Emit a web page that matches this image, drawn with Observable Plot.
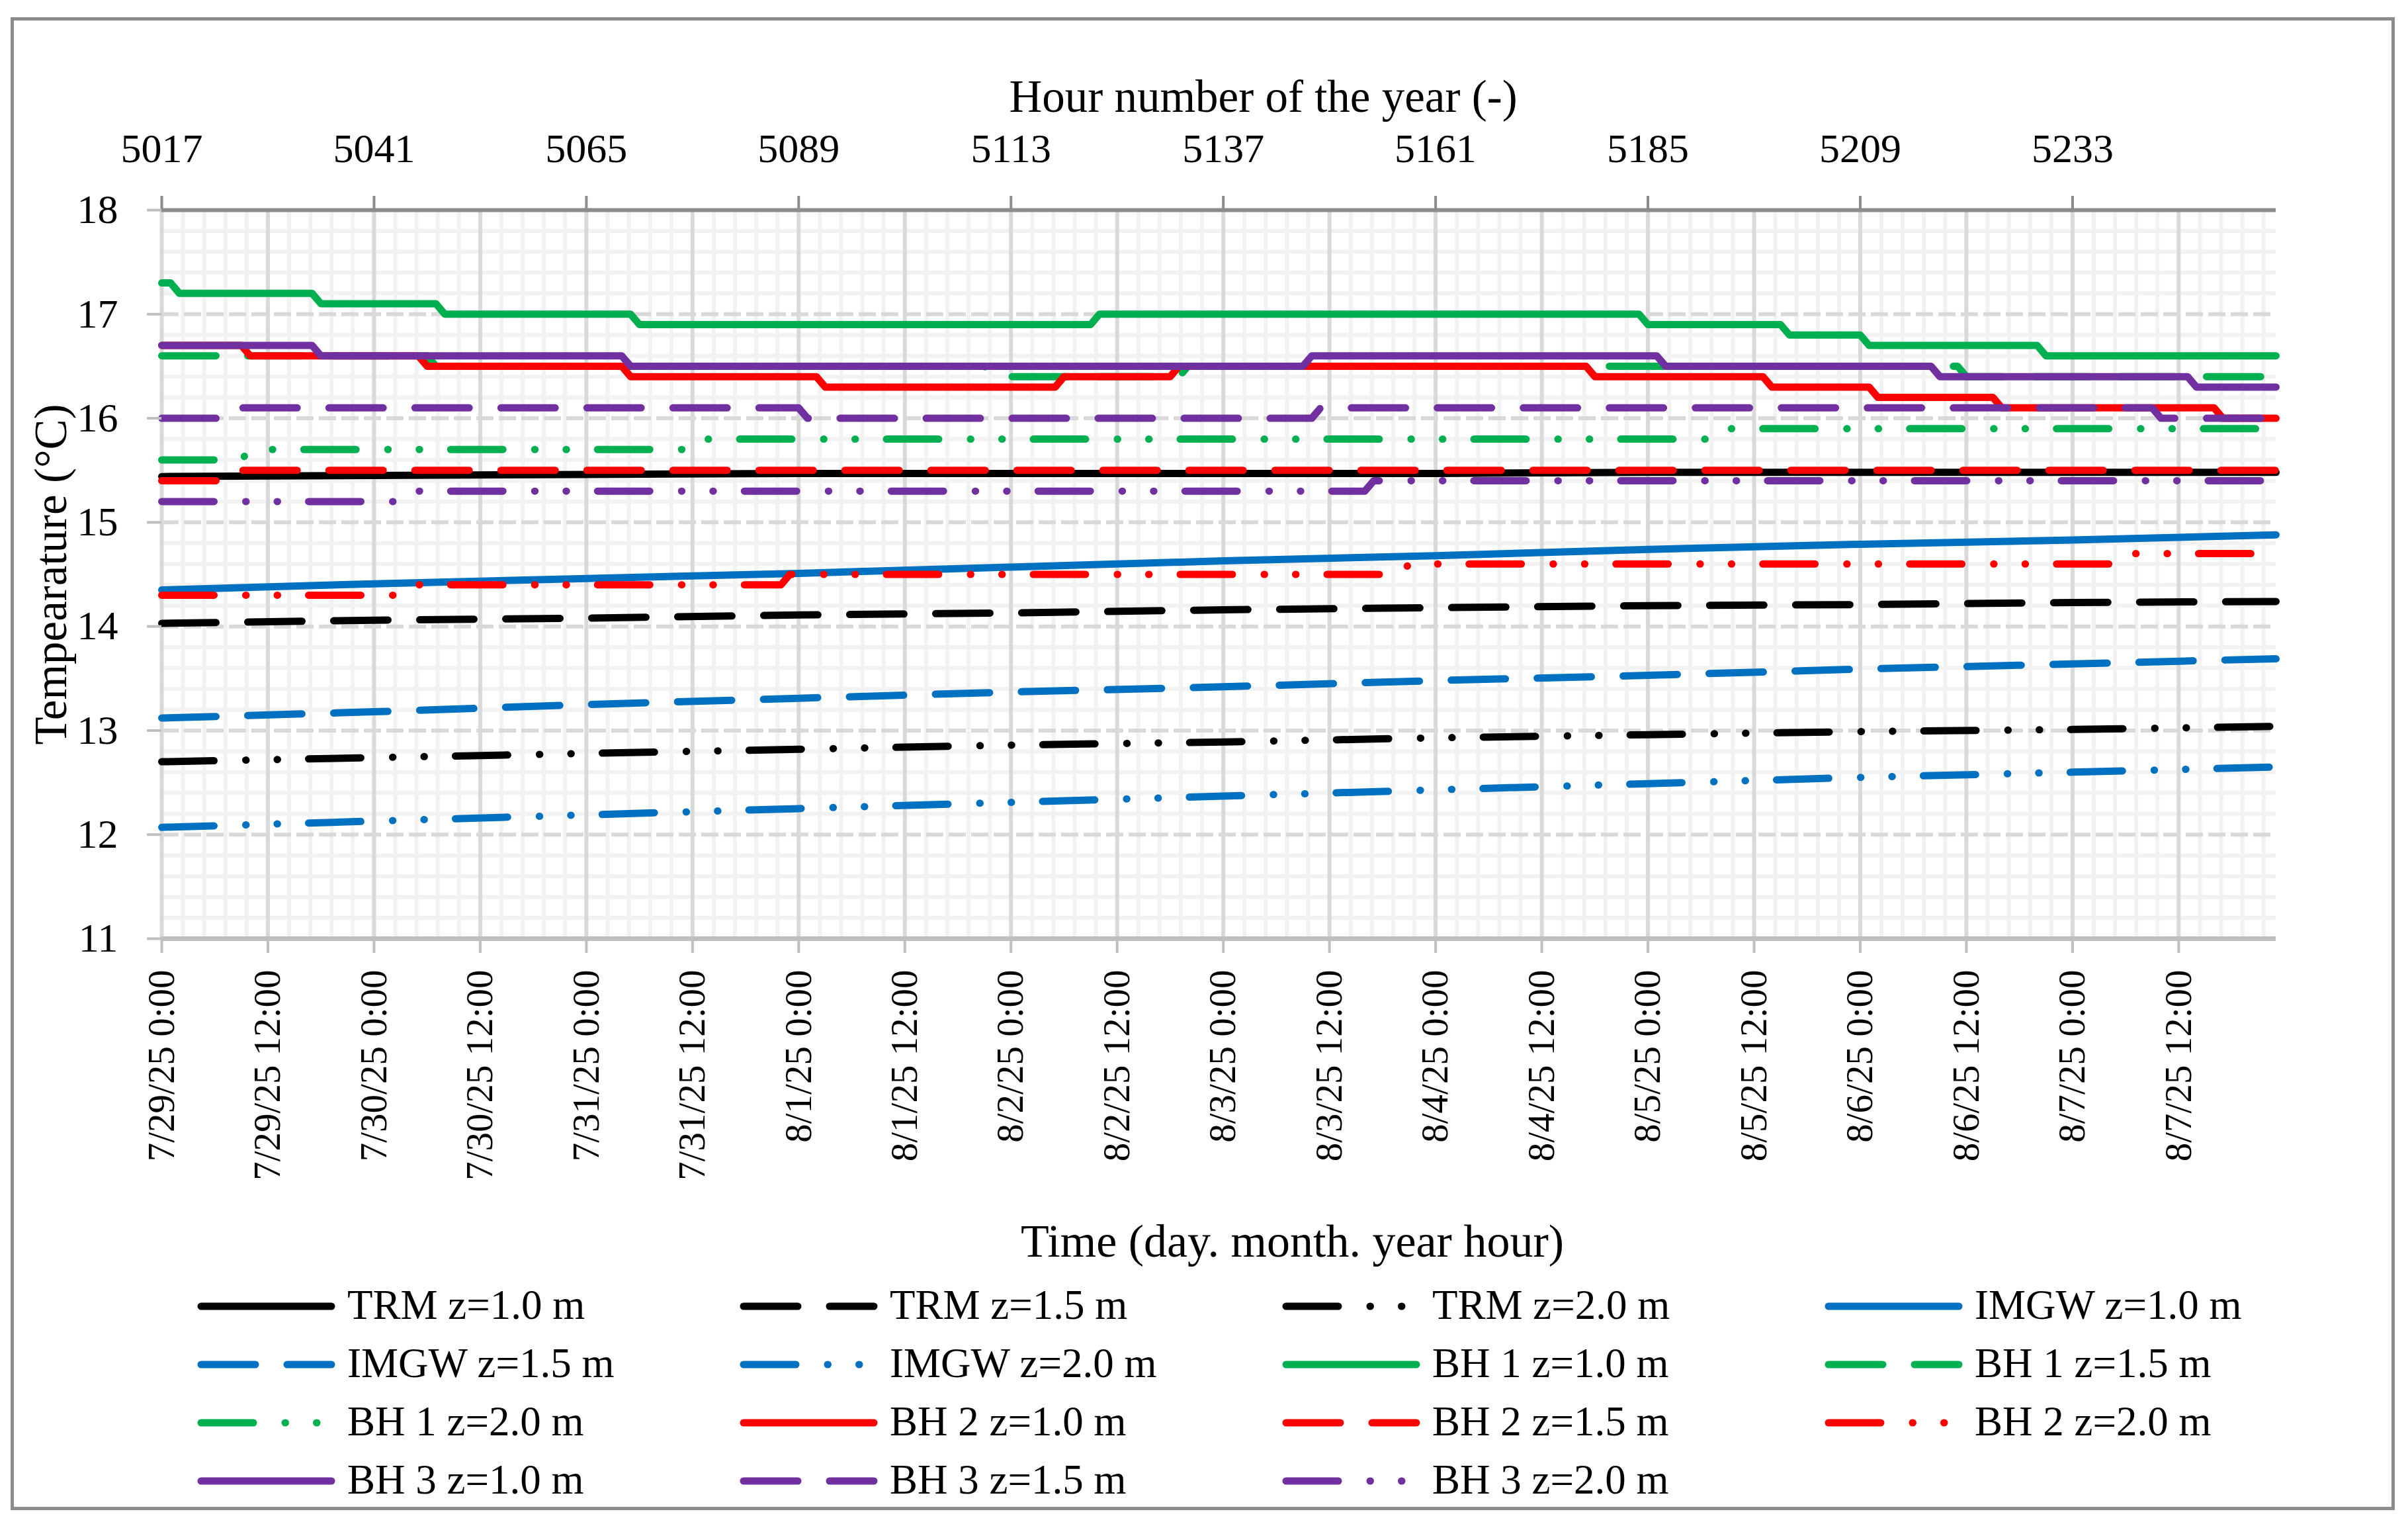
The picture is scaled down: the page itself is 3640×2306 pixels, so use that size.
<!DOCTYPE html>
<html>
<head>
<meta charset="utf-8">
<script src="https://cdn.jsdelivr.net/npm/d3@7"></script>
<script src="https://cdn.jsdelivr.net/npm/@observablehq/plot@0.6"></script>
<style>
html, body { margin: 0; padding: 0; background: #fff; }
#page { position: relative; width: 3640px; height: 2306px; overflow: hidden; background: #fff; font-family: "Liberation Serif", serif; }
#chart { position: absolute; left: 0; top: 0; }
#legend { position: absolute; left: 0; top: 1900px; }
#frame { position: absolute; left: 16px; top: 26px; width: 3604px; height: 2256px; border: 5px solid #8c8c8c; box-sizing: border-box; pointer-events: none; }
</style>
</head>
<body>
<div id="page">
  <div id="chart"></div>
  <svg id="legend" width="3640" height="400"></svg>
  <div id="frame"></div>
</div>
<script>
// ---------------- DATA ----------------
const START_HOUR = 5017;            // 7/29/25 0:00
const END_OFFSET = 239;             // last hourly value
const hourTicks = [5017, 5041, 5065, 5089, 5113, 5137, 5161, 5185, 5209, 5233];
const dateLabels = ["7/29/25 0:00", "7/29/25 12:00", "7/30/25 0:00", "7/30/25 12:00",
  "7/31/25 0:00", "7/31/25 12:00", "8/1/25 0:00", "8/1/25 12:00", "8/2/25 0:00", "8/2/25 12:00",
  "8/3/25 0:00", "8/3/25 12:00", "8/4/25 0:00", "8/4/25 12:00", "8/5/25 0:00", "8/5/25 12:00",
  "8/6/25 0:00", "8/6/25 12:00", "8/7/25 0:00", "8/7/25 12:00"];
const yTicks = [11, 12, 13, 14, 15, 16, 17, 18];

// smooth series, read every 24 h (hour offsets from 5017)
const smoothHours = [0, 24, 48, 72, 96, 120, 144, 168, 192, 216, 239];
const trm10  = [15.44, 15.45, 15.46, 15.47, 15.47, 15.47, 15.47, 15.48, 15.48, 15.48, 15.48];
const trm15  = [14.03, 14.06, 14.08, 14.11, 14.13, 14.16, 14.18, 14.20, 14.21, 14.23, 14.24];
const trm20  = [12.70, 12.74, 12.78, 12.82, 12.86, 12.89, 12.93, 12.96, 12.99, 13.01, 13.04];
const imgw10 = [14.35, 14.41, 14.46, 14.51, 14.57, 14.63, 14.68, 14.74, 14.79, 14.83, 14.88];
const imgw15 = [13.12, 13.18, 13.25, 13.31, 13.37, 13.42, 13.48, 13.53, 13.59, 13.64, 13.69];
const imgw20 = [12.07, 12.13, 12.19, 12.25, 12.31, 12.37, 12.43, 12.49, 12.55, 12.60, 12.65];

// step series: [hour offset, temperature] breakpoints
const bh1_10 = [[0,17.3],[1,17.3],[2,17.2],[17,17.2],[18,17.1],[31,17.1],[32,17.0],[53,17.0],[54,16.9],
  [105,16.9],[106,17.0],[167,17.0],[168,16.9],[183,16.9],[184,16.8],[192,16.8],[193,16.7],[212,16.7],[213,16.6],[239,16.6]];
const bh1_15 = [[0,16.6],[30,16.6],[31,16.5],[93,16.5],[94,16.4],[115,16.4],[116,16.5],[203,16.5],[204,16.4],[239,16.4]];
const bh1_20 = [[0,15.6],[9,15.6],[10,15.7],[59,15.7],[60,15.8],[175,15.8],[176,15.9],[239,15.9]];
const bh2_10 = [[0,16.7],[9,16.7],[10,16.6],[29,16.6],[30,16.5],[52,16.5],[53,16.4],[74,16.4],[75,16.3],
  [101,16.3],[102,16.4],[114,16.4],[115,16.5],[161,16.5],[162,16.4],[181,16.4],[182,16.3],[193,16.3],[194,16.2],
  [207,16.2],[208,16.1],[232,16.1],[233,16.0],[239,16.0]];
const bh2_15 = [[0,15.4],[7,15.4],[8,15.5],[239,15.5]];
const bh2_20 = [[0,14.3],[27,14.3],[28,14.4],[70,14.4],[71,14.5],[140,14.5],[141,14.6],[221,14.6],[222,14.7],[239,14.7]];
const bh3_10 = [[0,16.7],[17,16.7],[18,16.6],[52,16.6],[53,16.5],[129,16.5],[130,16.6],[169,16.6],[170,16.5],
  [200,16.5],[201,16.4],[229,16.4],[230,16.3],[239,16.3]];
const bh3_15 = [[0,16.0],[7,16.0],[8,16.1],[72,16.1],[73,16.0],[130,16.0],[131,16.1],[225,16.1],[226,16.0],[239,16.0]];
const bh3_20 = [[0,15.2],[27,15.2],[28,15.3],[136,15.3],[137,15.4],[239,15.4]];

const seriesNames = ["TRM z=1.0 m", "TRM z=1.5 m", "TRM z=2.0 m", "IMGW z=1.0 m", "IMGW z=1.5 m", "IMGW z=2.0 m",
  "BH 1 z=1.0 m", "BH 1 z=1.5 m", "BH 1 z=2.0 m", "BH 2 z=1.0 m", "BH 2 z=1.5 m", "BH 2 z=2.0 m",
  "BH 3 z=1.0 m", "BH 3 z=1.5 m", "BH 3 z=2.0 m"];

// ---------------- STYLES ----------------
const BLACK = "#000000", BLUE = "#0070C0", GREEN = "#00B050", RED = "#FF0000", PURPLE = "#7030A0";
const seriesColors = [BLACK, BLACK, BLACK, BLUE, BLUE, BLUE, GREEN, GREEN, GREEN, RED, RED, RED, PURPLE, PURPLE, PURPLE];
const DASH = {solid: null, dash: "82,48", dashDotDot: "79,48,0.5,47,0.5,47"};
const seriesDash = ["solid", "dash", "dashDotDot"];
const LW = 11;

const zip = (hs, vs) => hs.map((h, i) => [h, vs[i]]);
const seriesPoints = [
  zip(smoothHours, trm10), zip(smoothHours, trm15), zip(smoothHours, trm20),
  zip(smoothHours, imgw10), zip(smoothHours, imgw15), zip(smoothHours, imgw20),
  bh1_10, bh1_15, bh1_20, bh2_10, bh2_15, bh2_20, bh3_10, bh3_15, bh3_20
];

// ---------------- CHART ----------------
const minorX = d3.range(0, 100).filter(i => i % 5 !== 0).map(i => START_HOUR + i * 2.4);
const majorX = dateLabels.map((_, i) => START_HOUR + i * 12);
const minorY = d3.range(0, 36).filter(i => i % 5 !== 0).map(i => 11 + i * 0.2);
const majorY = yTicks.filter(v => v > 11 && v < 18);

const lineMarks = seriesPoints.map((pts, i) => Plot.line(pts, {
  x: d => START_HOUR + d[0],
  y: d => d[1],
  stroke: seriesColors[i],
  strokeWidth: LW,
  strokeDasharray: DASH[seriesDash[i % 3]] || undefined,
  strokeLinecap: "round",
  strokeLinejoin: "round"
}));

const chart = Plot.plot({
  width: 3640,
  height: 1930,
  marginLeft: 244,
  marginRight: 200,
  marginTop: 317,
  marginBottom: 512,
  x: {domain: [START_HOUR, START_HOUR + END_OFFSET]},
  y: {domain: [11, 18]},
  style: {fontFamily: "'Liberation Serif', serif", fontSize: "62px", background: "transparent", color: "#000", overflow: "visible"},
  marks: [
    Plot.ruleY(minorY, {stroke: "#f2f2f2", strokeWidth: 6}),
    Plot.ruleX(minorX, {stroke: "#f2f2f2", strokeWidth: 6}),
    Plot.ruleX(majorX, {stroke: "#d9d9d9", strokeWidth: 6}),
    Plot.ruleY(majorY, {stroke: "#d9d9d9", strokeWidth: 6, strokeDasharray: "26,8"}),
    Plot.ruleY([18], {stroke: "#8c8c8c", strokeWidth: 6}),
    Plot.ruleY([11], {stroke: "#bfbfbf", strokeWidth: 7}),
    ...lineMarks,
    Plot.axisX({anchor: "top", ticks: hourTicks, tickFormat: d => String(d), tickSize: 22, tickPadding: 51,
      stroke: "#8c8c8c", strokeWidth: 4, fontSize: 62, label: null}),
    Plot.axisX({anchor: "bottom", ticks: majorX, tickFormat: d => dateLabels[Math.round((d - START_HOUR) / 12)],
      tickRotate: -90, tickSize: 22, tickPadding: 25, stroke: "#bfbfbf", strokeWidth: 4, fontSize: 57, label: null}),
    Plot.axisY({ticks: yTicks, tickFormat: d => String(d), tickSize: 22, tickPadding: 44,
      stroke: "#bfbfbf", strokeWidth: 4, fontSize: 62, label: null}),
    Plot.text(["Hour number of the year (-)"], {text: d => d, frameAnchor: "top", lineAnchor: "middle", textAnchor: "middle",
      dx: 67, dy: -171, fontSize: 69}),
    Plot.text(["Time (day. month. year hour)"], {text: d => d, frameAnchor: "bottom", lineAnchor: "middle", textAnchor: "middle",
      dx: 111, dy: 458, fontSize: 70}),
    Plot.text(["Tempearature (°C)"], {text: d => d, frameAnchor: "left", lineAnchor: "middle", textAnchor: "middle",
      dx: -167, rotate: -90, fontSize: 69})
  ]
});
document.getElementById("chart").appendChild(chart);

// ---------------- LEGEND ----------------
const legend = d3.select("#legend");
seriesNames.forEach((name, i) => {
  const col = i % 4, row = Math.floor(i / 4);
  const x0 = 298 + col * 820, y0 = 74 + row * 88;
  const dash = DASH[seriesDash[i % 3]];
  const ln = legend.append("line")
    .attr("x1", x0 + 6).attr("x2", x0 + 203).attr("y1", y0).attr("y2", y0)
    .attr("stroke", seriesColors[i]).attr("stroke-width", LW).attr("stroke-linecap", "round");
  if (dash) ln.attr("stroke-dasharray", dash);
  legend.append("text")
    .attr("x", x0 + 227).attr("y", y0 + 19)
    .attr("font-family", "'Liberation Serif', serif").attr("font-size", 63)
    .text(name);
});
</script>
</body>
</html>
